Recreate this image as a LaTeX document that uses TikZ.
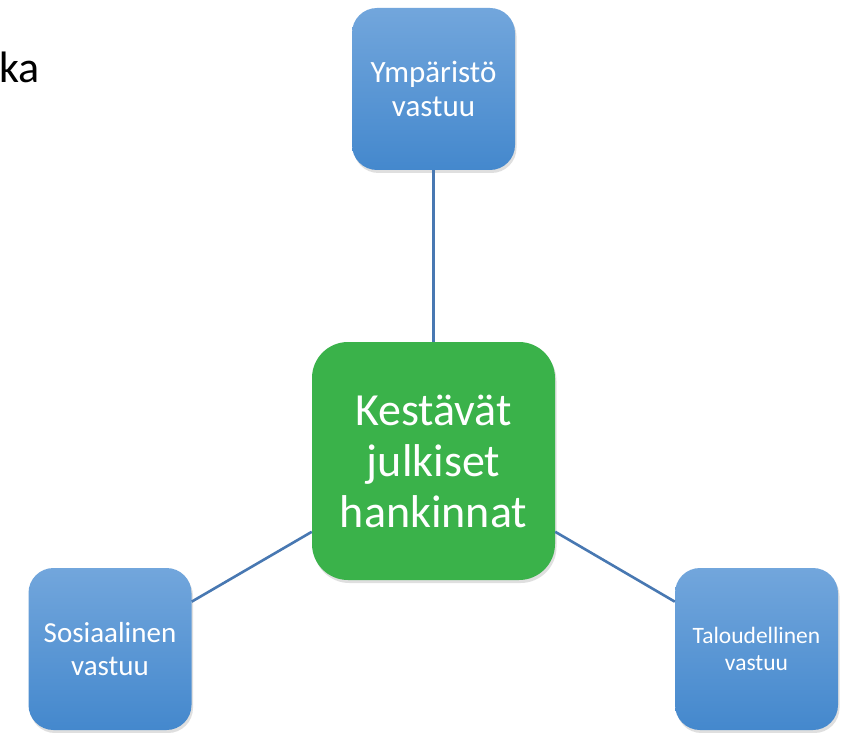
\documentclass[tikz,border=0pt]{standalone}
\usepackage{fontspec}
\setmainfont{Carlito}
\usetikzlibrary{shadows}
\definecolor{boxtop}{RGB}{114,166,220}
\definecolor{boxbottom}{RGB}{68,136,205}
\definecolor{hubgreen}{RGB}{58,178,74}
\definecolor{linkblue}{RGB}{72,120,178}
\begin{document}
\begin{tikzpicture}[x=1pt,y=-1pt,
    areabox/.style={rounded corners=25pt,minimum width=163pt,minimum height=162pt,
        inner sep=0pt,align=center,text=white,top color=boxtop,bottom color=boxbottom,
        drop shadow={shadow xshift=1.5pt,shadow yshift=-3pt,opacity=0.25}},
    hubbox/.style={rounded corners=36pt,minimum width=243pt,minimum height=238pt,
        inner sep=0pt,align=center,text=white,fill=hubgreen,
        drop shadow={shadow xshift=1.5pt,shadow yshift=-3pt,opacity=0.25}},
    link/.style={draw=linkblue,line width=2.6pt}]
    \useasboundingbox[fill=white] (0,0) rectangle (849,733);
    % cut-off heading at the left edge
    \node[anchor=base east,inner sep=0pt,font=\fontsize{44}{50}\selectfont] (heading) at (40,83) {ka};
    % the three sides
    \node[areabox,font=\fontsize{31}{34}\selectfont] (ymparisto) at (433.5,89) {Ympäristö\\vastuu};
    \node[areabox,font=\fontsize{29}{33}\selectfont] (sosiaalinen) at (110,649) {Sosiaalinen\\vastuu};
    \node[areabox,font=\fontsize{23.5}{27}\selectfont] (taloudellinen) at (756.5,649) {Taloudellinen\\vastuu};
    % the centre
    \node[hubbox,font=\fontsize{46}{51}\selectfont] (hankinnat) at (433.5,461) {Kestävät\\julkiset\\hankinnat};
    \draw[link] (hankinnat) -- (ymparisto);
    \draw[link] (hankinnat) -- (sosiaalinen);
    \draw[link] (hankinnat) -- (taloudellinen);
\end{tikzpicture}
\end{document}
